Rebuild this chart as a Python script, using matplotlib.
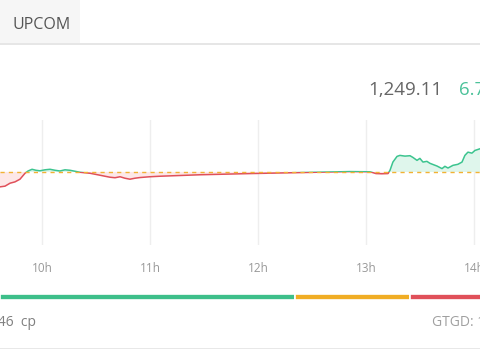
import numpy as np
import matplotlib
matplotlib.use("Agg")
import matplotlib.pyplot as plt
from matplotlib.patches import Rectangle

plt.rcParams['font.family'] = ['Open Sans', 'DejaVu Sans']

# minutes after 9:00 and index values
minutes = [36.7, 39.5, 42.3, 45.0, 47.8, 50.6, 52.3, 54.5, 56.7, 58.9,
           61.7, 64.5, 67.3, 70.0, 72.8, 75.6, 78.4, 81.1, 83.9, 86.7,
           89.5, 92.3, 95.0, 97.8, 100.6, 103.4, 106.1, 108.9, 111.7, 114.5,
           120.0, 125.6, 147.8, 175.6, 203.4, 231.1, 242.3, 245.6, 248.9, 252.3,
           253.4, 255.0, 257.3, 258.9, 261.7, 264.5, 266.1, 268.4, 270.0, 271.7,
           273.9, 275.6, 279.5, 282.3, 283.9, 285.6, 288.4, 291.1, 293.4, 295.0,
           296.7, 298.9, 300.6, 303.4]
values = [1238.65, 1238.83, 1239.58, 1239.90, 1240.58, 1242.08, 1242.65, 1243.08, 1242.83, 1242.70,
          1242.95, 1243.08, 1242.83, 1242.65, 1242.95, 1242.83, 1242.58, 1242.33, 1242.20, 1242.08,
          1241.83, 1241.58, 1241.33, 1241.08, 1240.95, 1241.20, 1240.83, 1240.58, 1240.83, 1241.00,
          1241.20, 1241.33, 1241.70, 1242.00, 1242.25, 1242.50, 1242.45, 1242.00, 1241.95, 1242.00,
          1242.83, 1244.90, 1246.33, 1246.58, 1246.40, 1246.50, 1246.08, 1245.33, 1245.83, 1244.90,
          1245.08, 1244.58, 1243.90, 1243.25, 1243.83, 1243.40, 1244.08, 1244.33, 1244.90, 1246.58,
          1247.40, 1247.15, 1247.83, 1248.25]
ref_value = 1242.40

hour_ticks = [60, 120, 180, 240, 300]
hour_labels = ["10h", "11h", "12h", "13h", "14h"]

# advancing / unchanged / declining breadth bar
breadth = [295, 115, 110]
breadth_colors = ["#3dbf8a", "#f0ad24", "#e0505a"]

green = "#3cc48f"
red = "#e0505a"

fig = plt.figure(figsize=(4.8, 3.6), dpi=100)
W, H = 480.0, 360.0

# price chart
ax = fig.add_axes([0, (H - 245) / H, 1, 125 / H])
t = np.array(minutes)
v = np.array(values)
ax.set_xlim(36.7, 303.4)
ax.set_ylim(1224.0, 1255.5)

ax.fill_between(t, v, ref_value, where=v >= ref_value, interpolate=True,
                color="#dff6ec", lw=0)
ax.fill_between(t, v, ref_value, where=v <= ref_value, interpolate=True,
                color="#fde8e8", lw=0)

up_line, = ax.plot(t, v, color=green, lw=1.1)
dn_line, = ax.plot(t, v, color=red, lw=1.1)
up_line.set_clip_path(Rectangle((0, ref_value), 400, 100, transform=ax.transData))
dn_line.set_clip_path(Rectangle((0, ref_value - 100), 400, 100, transform=ax.transData))

ax.axhline(ref_value, color="#f2b233", lw=1, dashes=(3, 3))

ax.set_xticks(hour_ticks)
ax.set_xticklabels(hour_labels)
ax.grid(axis="x", color="#eeeeee", lw=1)
ax.set_yticks([])
ax.tick_params(axis="x", length=0, pad=12, labelsize=8.5, labelcolor="#999999")
for s in ax.spines.values():
    s.set_visible(False)
ax.set_axisbelow(True)

# breadth bar
bx = fig.add_axes([0, (H - 300) / H, 1, 6 / H])
left = 0
for n, c in zip(breadth, breadth_colors):
    bx.barh(0, n, left=left, height=1, color=c, edgecolor="white", lw=1.2)
    left += n
bx.set_xlim(0, 480)
bx.set_ylim(-0.5, 0.5)
bx.axis("off")

# tab header
fig.patches.append(Rectangle((0, 1 - 43 / H), 80 / W, 43 / H, transform=fig.transFigure,
                             facecolor="#f6f6f6", edgecolor="none"))
fig.patches.append(Rectangle((0, 1 - 45 / H), 1, 2 / H, transform=fig.transFigure,
                             facecolor="#e6e6e6", edgecolor="none"))
fig.text(12 / W, 1 - 25 / H, "UPCOM", fontsize=11.5, color="#555555", va="center")

fig.text(442 / W, 1 - 90 / H, "1,249.11", fontsize=13.5, color="#666666",
         va="center", ha="right")
fig.text(459 / W, 1 - 90 / H, "6.7", fontsize=13.5, color="#4cc29a", va="center")

# footer
fig.text(-10 / W, 1 - 323 / H, "346  cp", fontsize=10, color="#808080", va="center")
fig.text(432 / W, 1 - 323 / H, "GTGD: 1", fontsize=10, color="#a0a0a0", va="center")
fig.patches.append(Rectangle((0, 1 - 349 / H), 1, 1.5 / H, transform=fig.transFigure,
                             facecolor="#e8e8e8", edgecolor="none"))

fig.savefig("out.png", dpi=100)
